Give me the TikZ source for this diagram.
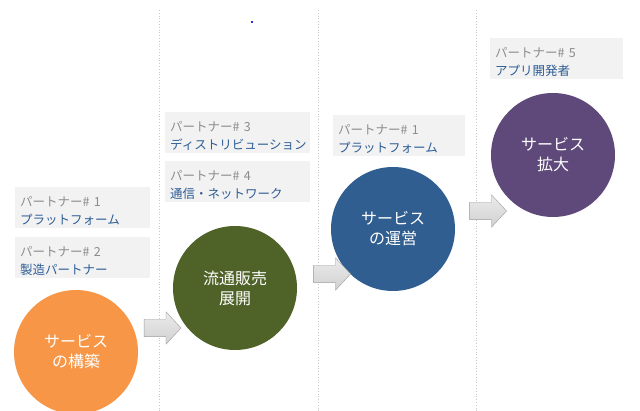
\documentclass[tikz,border=0pt]{standalone}
\usepackage{fontspec}
\usepackage{xcolor}
\usetikzlibrary{shapes.arrows}
\newfontfamily\jp{Noto Sans CJK JP}
\definecolor{pgray}{HTML}{8C8C8C}
\definecolor{pblue}{HTML}{2E5D95}
\definecolor{boxfill}{HTML}{F2F2F2}
\definecolor{sorange}{HTML}{F79646}
\definecolor{sgreen}{HTML}{4F6228}
\definecolor{sblue}{HTML}{305E91}
\definecolor{spurple}{HTML}{5F497A}
\tikzset{
  pbox/.style={anchor=north west,fill=boxfill,align=left,inner xsep=5pt,inner ysep=3pt,
    text height=16pt,minimum height=41pt,font=\jp\fontsize{12.5}{18}\selectfont},
  stage/.style={circle,minimum size=124pt,inner sep=0pt,text=white,align=center,
    font=\jp\fontsize{16}{20}\selectfont},
  flow/.style={single arrow,draw=black!38,top color=black!8,bottom color=black!18,
    minimum height=37pt,inner xsep=0pt,inner ysep=8.5pt,single arrow head extend=7.5pt,
    single arrow tip angle=94},
  sep/.style={draw=black!22,dotted,line width=0.8pt}
}
\begin{document}
\begin{tikzpicture}[x=1pt,y=-1pt]
\useasboundingbox[fill=white](0,0)rectangle(640,411);
% column separators
\foreach \x in {159,318,476}
  \draw[sep](\x,10)--(\x,411);
\fill[blue!60!gray](251,21)rectangle(253,23);
% stages
\node[stage,fill=sorange] (build) at (76,352) {サービス\\の構築};
\node[stage,fill=sgreen] (sales) at (235,288) {流通販売\\展開};
\node[stage,fill=sblue] (ops) at (393,229) {サービス\\の運営};
\node[stage,fill=spurple] (grow) at (553,155) {サービス\\拡大};
% partners
\node[pbox,text width=125pt] (p1) at (15,187) {\textcolor{pgray}{パートナー\# 1}\\\textcolor{pblue}{プラットフォーム}};
\node[pbox,text width=125pt] (p2) at (15,237) {\textcolor{pgray}{パートナー\# 2}\\\textcolor{pblue}{製造パートナー}};
\node[pbox,text width=135pt] (p3) at (165,112) {\textcolor{pgray}{パートナー\# 3}\\\textcolor{pblue}{ディストリビューション}};
\node[pbox,text width=135pt] (p4) at (165,161) {\textcolor{pgray}{パートナー\# 4}\\\textcolor{pblue}{通信・ネットワーク}};
\node[pbox,text width=122pt] (p5) at (333,115) {\textcolor{pgray}{パートナー\# 1}\\\textcolor{pblue}{プラットフォーム}};
\node[pbox,text width=123pt] (p6) at (490,38) {\textcolor{pgray}{パートナー\# 5}\\\textcolor{pblue}{アプリ開発者}};
% flow arrows
\node[flow] (a1) at (158.5,328) {};
\node[flow] (a2) at (328,274) {};
\node[flow] (a3) at (484,211) {};
\end{tikzpicture}
\end{document}
